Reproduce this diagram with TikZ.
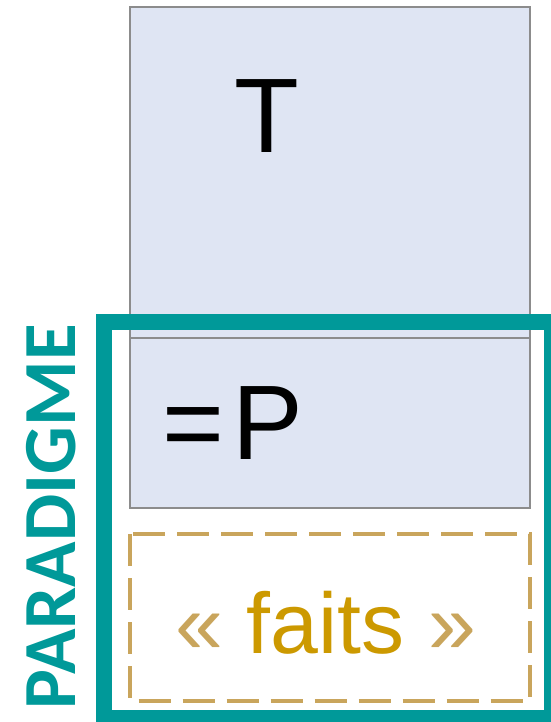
\documentclass[tikz,border=0pt]{standalone}
\usepackage{fontspec}
\setmainfont{Liberation Sans}
\newfontfamily\paradfont{Carlito}
\usepackage{tikz}

\definecolor{paraTeal}{RGB}{0,153,153}
\definecolor{boxFill}{RGB}{223,229,243}
\definecolor{boxLine}{RGB}{140,140,140}
\definecolor{faitTan}{RGB}{201,165,92}
\definecolor{faitGold}{RGB}{204,153,0}

\begin{document}
\begin{tikzpicture}[
				x=1pt,
				y=-1pt,
				line cap=butt,
				line join=miter,
				bluebox/.style={fill=boxFill,draw=boxLine,line width=2pt},
				factbox/.style={draw=faitTan,line width=4pt,dash pattern=on 32pt off 12pt},
				bigletter/.style={inner sep=0pt,anchor=base west,font=\fontsize{106}{106}\selectfont}
				]
				\useasboundingbox (0,0) rectangle (550,722);
				
				% Theory box
				\coordinate (T1) at (129.5,7);
				\coordinate (T2) at (530,338);
				\draw[bluebox] (T1) rectangle (T2);
				\node[bigletter] (theory) at (234,153) {T};
				
				% Paradigm box
				\coordinate (P1) at (129.5,338);
				\coordinate (P2) at (530,508);
				\draw[bluebox] (P1) rectangle (P2);
				\node[bigletter] (para) at (162,459) {=\hspace{8pt}P};
				
				% Facts
				\coordinate (F1) at (129.5,534);
				\coordinate (F2) at (530,701);
				\draw[factbox] (F1) rectangle (F2);
				\node[inner sep=0pt,anchor=base west,font=\fontsize{86}{86}\selectfont] (faits) at (175,653)
				{\textcolor{faitTan}{«} \textcolor{faitGold}{faits} \textcolor{faitTan}{»}};
				
				% Frame
				\coordinate (R1) at (104,322);
				\coordinate (R2) at (552,718);
				\draw[paraTeal,line width=16pt] (R1) rectangle (R2);
				\node[inner sep=0pt,rotate=90,text=paraTeal,font=\paradfont\bfseries\fontsize{75}{75}\selectfont] (paradigme) at (51,517) {PARADIGME};
\end{tikzpicture}
\end{document}
